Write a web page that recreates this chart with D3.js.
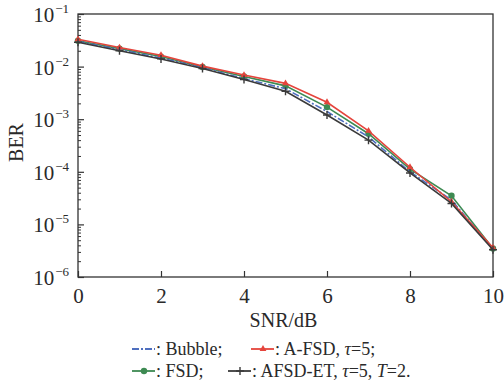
<!DOCTYPE html>
<html>
<head>
<meta charset="utf-8">
<script src="https://cdn.jsdelivr.net/npm/d3@7"></script>
<style>
  body { margin: 0; background: #fff; }
  svg text { font-family: "Liberation Serif", "Times New Roman", serif; fill: #2a2a2a; }
</style>
</head>
<body>
<svg id="chart" width="504" height="385"></svg>
<script>
// values
var snr = [0, 1, 2, 3, 4, 5, 6, 7, 8, 9, 10];
var bubble = [0.030, 0.021, 0.0145, 0.0095, 0.0059, 0.0038, 0.0014, 0.00046, 0.000100, 0.000029, 0.0000034];
var aFsd   = [0.033, 0.023, 0.0165, 0.0102, 0.0069, 0.0048, 0.0021, 0.00060, 0.000122, 0.000027, 0.0000036];
var fsd    = [0.031, 0.022, 0.0155, 0.0098, 0.0065, 0.0043, 0.0017, 0.00053, 0.000112, 0.000035, 0.0000035];
var afsdEt = [0.029, 0.020, 0.0140, 0.0092, 0.0057, 0.0034, 0.0012, 0.00040, 0.000095, 0.000025, 0.0000033];
var xTicks = [0, 2, 4, 6, 8, 10];
var yExps = [-1, -2, -3, -4, -5, -6];

var margin = {top: 14, right: 11, bottom: 108, left: 78};
var width = 504 - margin.left - margin.right,
    height = 385 - margin.top - margin.bottom;

var svg = d3.select("#chart");
var g = svg.append("g").attr("transform", "translate(" + margin.left + "," + margin.top + ")");

var x = d3.scaleLinear().domain([0, 10]).range([0, width]);
var y = d3.scaleLog().domain([1e-6, 1e-1]).range([height, 0]);

var axisCol = "#333";

// frame
g.append("rect")
  .attr("width", width).attr("height", height)
  .attr("fill", "none").attr("stroke", axisCol).attr("stroke-width", 1.3);

// minor ticks on y
var minor = [];
yExps.slice(0, 5).forEach(function(e) {
  for (var k = 2; k <= 9; k++) minor.push(k * Math.pow(10, e - 1));
});

g.append("g")
  .call(d3.axisLeft(y).tickValues(minor).tickSize(-3).tickFormat(""))
  .call(function(a) { a.select(".domain").remove(); a.selectAll("line").attr("stroke", axisCol); });

var yAxis = g.append("g")
  .call(d3.axisLeft(y).tickValues(yExps.map(function(e) { return Math.pow(10, e); })).tickSize(-6).tickFormat(""));
yAxis.select(".domain").remove();
yAxis.selectAll("line").attr("stroke", axisCol).attr("stroke-width", 1.2);

// y tick labels as 10^e
yExps.forEach(function(e) {
  var t = g.append("text")
    .attr("x", -9).attr("y", y(Math.pow(10, e)) + 8)
    .attr("text-anchor", "end")
    .style("font-size", "21px");
  t.append("tspan").text("10");
  t.append("tspan").attr("dx", 1).attr("dy", -9).style("font-size", "13px").text("\u2212" + (-e));
});

var xAxis = g.append("g")
  .attr("transform", "translate(0," + height + ")")
  .call(d3.axisBottom(x).tickValues(xTicks).tickSize(-6).tickPadding(0).tickFormat(d3.format("d")));
xAxis.select(".domain").remove();
xAxis.selectAll("line").attr("stroke", axisCol).attr("stroke-width", 1.2);
xAxis.selectAll("text")
  .attr("y", 26).attr("dy", null)
  .style("font-size", "21px").attr("fill", "#2a2a2a")
  .style("font-family", "Liberation Serif, serif");

g.append("text")
  .attr("x", width / 2 - 2).attr("y", height + 50)
  .attr("text-anchor", "middle").style("font-size", "20px").text("SNR/dB");

g.append("text")
  .attr("transform", "translate(-55," + (height / 2 - 3) + ") rotate(-90)")
  .attr("text-anchor", "middle").style("font-size", "20px").text("BER");

var line = d3.line()
  .x(function(d, i) { return x(snr[i]); })
  .y(function(d) { return y(d); });

var series = [
  {name: "fsd", values: fsd, color: "#3d8a52", dash: null, marker: "circle"},
  {name: "bubble", values: bubble, color: "#4f6fbf", dash: "7,2,2,2", marker: null},
  {name: "afsd", values: aFsd, color: "#e5443c", dash: null, marker: "triangle"},
  {name: "afsdet", values: afsdEt, color: "#3a3a3a", dash: null, marker: "cross"}
];

function drawMarker(sel, type, color, cx, cy) {
  if (type == "circle") {
    sel.append("circle").attr("cx", cx).attr("cy", cy).attr("r", 3.2).attr("fill", color);
  } else if (type == "triangle") {
    sel.append("path")
      .attr("d", d3.symbol().type(d3.symbolTriangle).size(20)())
      .attr("transform", "translate(" + cx + "," + cy + ")")
      .attr("fill", color);
  } else if (type == "cross") {
    sel.append("path")
      .attr("d", "M" + (cx - 4) + "," + cy + "H" + (cx + 4) + "M" + cx + "," + (cy - 4) + "V" + (cy + 4))
      .attr("stroke", color).attr("stroke-width", 1.4);
  }
}

series.forEach(function(s) {
  g.append("path")
    .datum(s.values)
    .attr("d", line)
    .attr("fill", "none")
    .attr("stroke", s.color)
    .attr("stroke-width", 1.6)
    .attr("stroke-dasharray", s.dash);
  if (s.marker) {
    var mg = g.append("g");
    s.values.forEach(function(v, i) { drawMarker(mg, s.marker, s.color, x(snr[i]), y(v)); });
  }
});

// legend
var legend = [
  {x: 132, y: 355, s: series[1], label: [": Bubble;"]},
  {x: 251, y: 355, s: series[2], label: [": A-FSD, ", "τ", "=5;"]},
  {x: 132, y: 377, s: series[0], label: [": FSD;"]},
  {x: 228, y: 377, s: series[3], label: [": AFSD-ET, ", "τ", "=5, ", "T", "=2."]}
];
legend.forEach(function(l) {
  var lg = svg.append("g");
  lg.append("line")
    .attr("x1", l.x).attr("x2", l.x + 23)
    .attr("y1", l.y - 6).attr("y2", l.y - 6)
    .attr("stroke", l.s.color).attr("stroke-width", 1.8)
    .attr("stroke-dasharray", l.s.dash);
  if (l.s.marker) drawMarker(lg, l.s.marker, l.s.color, l.x + 12, l.y - 6);
  var t = lg.append("text").attr("x", l.x + 24).attr("y", l.y).style("font-size", "18px");
  l.label.forEach(function(p) {
    var sp = t.append("tspan").text(p);
    if (p == "τ" || p == "T") sp.style("font-style", "italic");
  });
});
</script>
</body>
</html>
